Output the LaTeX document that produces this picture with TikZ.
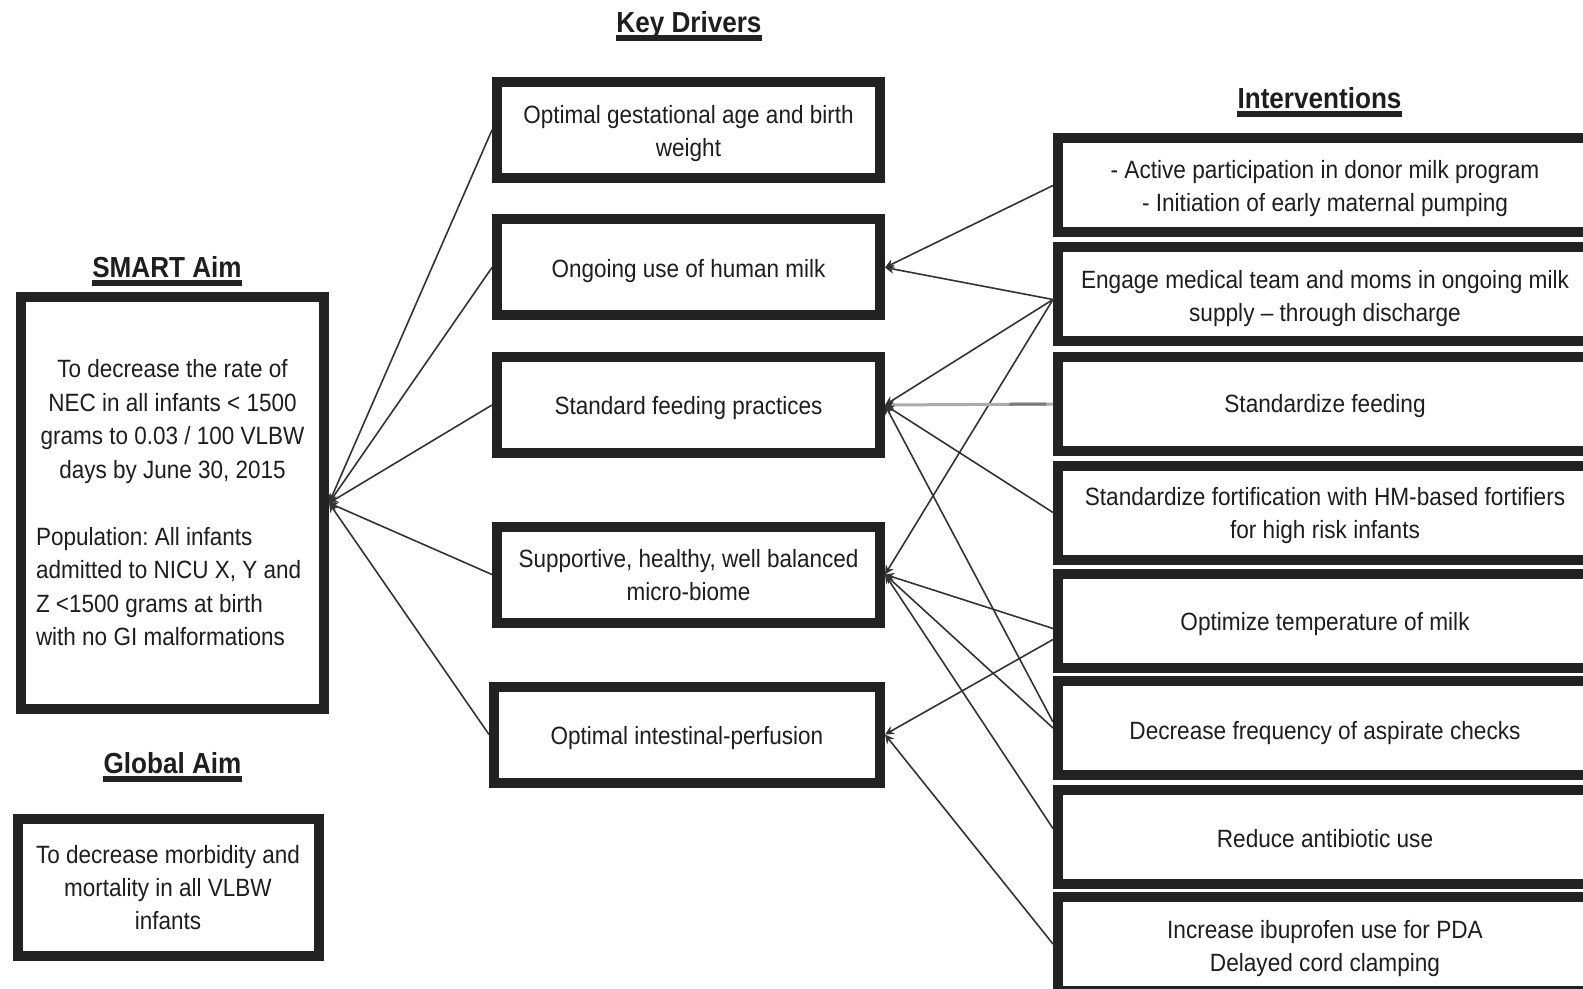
\documentclass[tikz,border=0pt]{standalone}
\usepackage{fontspec}
\newfontfamily\bodyfont{Liberation Sans}[FakeStretch=0.9]
\newfontfamily\itemfont{Liberation Sans}[FakeStretch=0.905]
\usetikzlibrary{arrows.meta,calc}
\definecolor{ink}{HTML}{222222}
\definecolor{textink}{HTML}{1E1E1E}
\definecolor{lineink}{HTML}{333333}
\definecolor{softink}{HTML}{ABABAB}
\definecolor{midink}{HTML}{7A7A7A}

\tikzset{
  frame/.style={draw=ink, line width=5pt, fill=white, inner sep=0pt, text=textink},
  aimbox/.style={frame, minimum width=151.5pt, minimum height=206pt,
    font=\bodyfont\frenchspacing\fontsize{12.5}{16.75}\selectfont},
  globalbox/.style={frame, minimum width=150.5pt, minimum height=68.5pt, align=center,
    font=\bodyfont\fontsize{12.5}{16.5}\selectfont},
  drvbox/.style={frame, minimum width=191.5pt, minimum height=48pt},
  drvtext/.style={inner sep=0pt, align=center, text=textink,
    font=\bodyfont\fontsize{12.5}{16.75}\selectfont},
  intbox/.style={frame, anchor=west, minimum width=330pt, minimum height=47pt},
  inttext/.style={inner sep=0pt, align=center, text=textink,
    font=\itemfont\fontsize{12.5}{16.5}\selectfont},
  heading/.style={anchor=base, inner sep=0pt, text=textink,
    font=\bodyfont\bfseries\fontsize{14.5}{17}\selectfont},
  uline/.style={draw=ink, line width=3pt},
  link/.style={draw=lineink, line width=0.8pt, -{Stealth[length=4.5pt,width=4.5pt]}},
  softlink/.style={draw=softink, line width=1.5pt, -{Stealth[length=4.5pt,width=4.5pt,color=lineink]}},
}

\begin{document}
\begin{tikzpicture}[x=0.5pt, y=-0.5pt]
\useasboundingbox (0,0) rectangle (1583,989);
\clip (0,0) rectangle (1583,989);

% headings
\node[heading] (hkey) at (689,33) {Key Drivers};
\node[heading] (hsmart) at (167,278) {SMART Aim};
\node[heading] (hint) at (1319.5,109) {Interventions};
\node[heading] (hglobal) at (172.5,773) {Global Aim};
\foreach \h in {hkey,hsmart,hint,hglobal}
  \draw[uline] ([yshift=-2.75pt]\h.base west) -- ([yshift=-2.75pt]\h.base east);

% aims
\node[aimbox] (smart) at (172.5,503) {\parbox{136.5pt}{\centering
  To decrease the rate of\\NEC in all infants < 1500\\grams to 0.03 / 100 VLBW\\days by June 30, 2015\par
  \vspace{\baselineskip}\raggedright
  Population: All infants\\admitted to NICU X, Y and\\Z <1500 grams at birth\\with no GI malformations\par}};
\node[globalbox] (global) at (168,887.5) {To decrease morbidity and\\mortality in all VLBW\\infants};

% key drivers
\node[drvbox] (kd1) at (688.5,130) {};
\node[drvbox] (kd2) at (688.5,267.5) {};
\node[drvbox] (kd3) at (688.5,405) {};
\node[drvbox] (kd4) at (688.5,574.5) {};
\node[drvbox, minimum width=193pt] (kd5) at (687,734.5) {};

\node[drvtext] (kd1t) at ([yshift=-1.75pt]kd1.center) {Optimal gestational age and birth\\weight};
\node[drvtext] (kd2t) at ([yshift=-1.75pt]kd2.center) {Ongoing use of human milk};
\node[drvtext] (kd3t) at ([yshift=-1.5pt]kd3.center) {Standard feeding practices};
\node[drvtext] (kd4t) at ([yshift=-0.25pt]kd4.center) {Supportive, healthy, well balanced\\micro-biome};
\node[drvtext] (kd5t) at ([yshift=-1.75pt]kd5.center) {Optimal intestinal-perfusion};

% interventions: boxes run past the right edge
\node[intbox] (i1) at (1053,185.5) {};
\node[intbox] (i2) at (1053,294.5) {};
\node[intbox] (i3) at (1053,404) {};
\node[intbox] (i4) at (1053,512.5) {};
\node[intbox] (i5) at (1053,620.5) {};
\node[intbox] (i6) at (1053,728) {};
\node[intbox] (i7) at (1053,836.5) {};
\node[intbox] (i8) at (1053,944) {};

\node[inttext] (i1t) at (1325,188.5) {- Active participation in donor milk program\\- Initiation of early maternal pumping};
\node[inttext] (i2t) at (1325,299) {Engage medical team and moms in ongoing milk\\supply – through discharge};
\node[inttext] (i3t) at (1325,406) {Standardize feeding};
\node[inttext] (i4t) at (1325,516) {Standardize fortification with HM-based fortifiers\\for high risk infants};
\node[inttext] (i5t) at (1325,624) {Optimize temperature of milk};
\node[inttext] (i6t) at (1325,733) {Decrease frequency of aspirate checks};
\node[inttext] (i7t) at (1325,839) {Reduce antibiotic use};
\node[inttext] (i8t) at (1325,948.5) {Increase ibuprofen use for PDA\\Delayed cord clamping};

% key drivers feed the SMART aim
\foreach \k in {kd1,kd2,kd3,kd4,kd5}
  \draw[link] (\k.west) -- (smart.east);

% interventions feed the key drivers
\draw[link] (i1.west) -- (kd2.east);
\draw[link] ([yshift=-2.5pt]i2.west) -- (kd2.east);
\draw[link] ([yshift=-2.5pt]i2.west) -- (kd3.east);
\draw[link] ([yshift=-2.5pt]i2.west) -- (kd4.east);
\draw[softlink] (i3.west) -- (kd3.east);
\draw[draw=midink, line width=1.5pt] ($(i3.west)!0.04!(kd3.east)$) -- ($(i3.west)!0.26!(kd3.east)$);
\draw[link] (i4.west) -- (kd3.east);
\draw[link] ([yshift=3pt]i6.west) -- (kd3.east);
\draw[link] ([yshift=-4pt]i5.west) -- (kd4.east);
\draw[link] (i6.west) -- (kd4.east);
\draw[link] ([yshift=4pt]i7.west) -- (kd4.east);
\draw[link] ([yshift=-9.5pt]i5.west) -- (kd5.east);
\draw[link] (i8.west) -- (kd5.east);
\end{tikzpicture}
\end{document}
